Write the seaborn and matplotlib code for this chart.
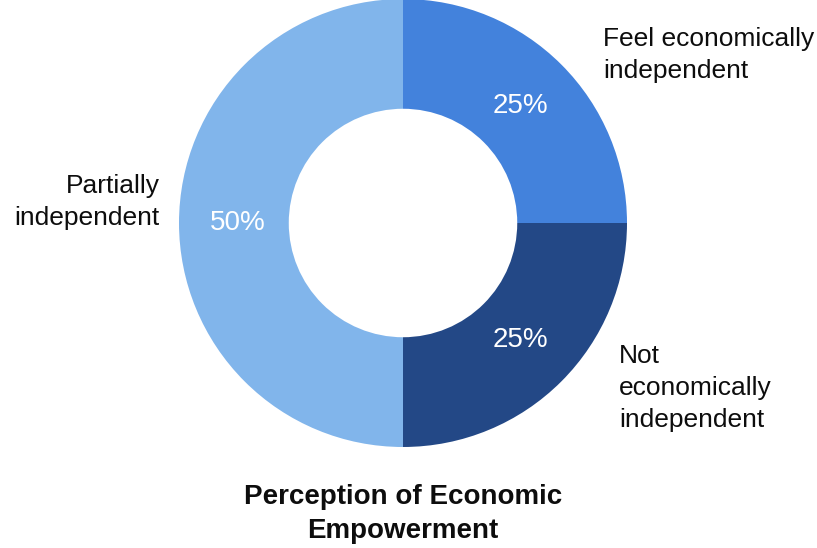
import matplotlib
matplotlib.use("Agg")
import matplotlib.pyplot as plt
import numpy as np
import seaborn as sns

# Survey shares for perceived economic independence
categories = ["Feel economically\nindependent", "Not\neconomically\nindependent", "Partially\nindependent"]
shares = [25, 25, 50]
pct_labels = ["25%", "25%", "50%"]
title_text = "Perception of Economic\nEmpowerment"

sns.set_theme(style="white")
plt.rcParams["font.family"] = ["Liberation Sans", "DejaVu Sans"]

palette = sns.color_palette(["#4382DC", "#234886", "#81B5EB"])

W, H = 817, 548
fig = plt.figure(figsize=(W / 100, H / 100), dpi=100)
cx, cy, R = 403, 223, 224
ax = fig.add_axes([(cx - R) / W, (H - cy - R) / H, 2 * R / W, 2 * R / H])

wedges, _ = ax.pie(
    shares,
    colors=palette,
    startangle=90,
    counterclock=False,
    radius=1,
    wedgeprops=dict(width=0.49, linewidth=0),
)
ax.set_xlim(-1, 1)
ax.set_ylim(-1, 1)
ax.set_aspect("equal")
ax.axis("off")

# percentage labels inside the ring
for w, lab in zip(wedges, pct_labels):
    ang = np.deg2rad((w.theta1 + w.theta2) / 2)
    r = 0.74
    ax.text(r * np.cos(ang), r * np.sin(ang), lab, color="white",
            fontsize=20, ha="center", va="center")


def px(x, y):
    return (x - cx) / R, (cy - y) / R


# category labels outside the ring
label_kw = dict(fontsize=19, va="center", linespacing=1.42,
                color="#0d0d0d", clip_on=False)
x, y = px(603, 55)
ax.text(x, y, categories[0], ha="left", **label_kw)
x, y = px(619, 388)
ax.text(x, y, categories[1], ha="left", **label_kw)
x, y = px(160, 202)
ax.text(x, y, categories[2], ha="right", **label_kw)

x, y = px(403, 514)
ax.text(x, y, title_text, fontsize=20, fontweight="bold", ha="center",
        va="center", linespacing=1.38, color="#0d0d0d", clip_on=False)

fig.savefig("out.png", dpi=100, facecolor="white")
